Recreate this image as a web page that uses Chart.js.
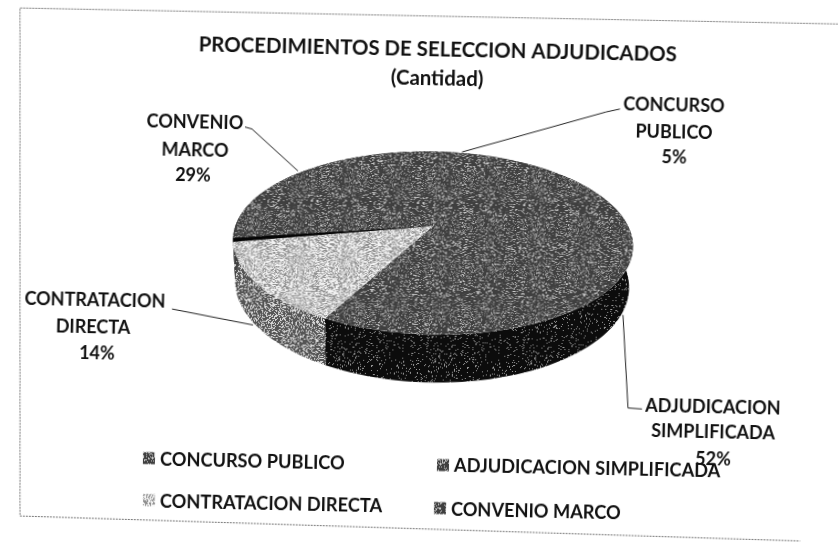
<!DOCTYPE html>
<html>
<head>
<meta charset="utf-8">
<script src="https://cdn.jsdelivr.net/npm/chart.js@4"></script>
<style>
  html, body { margin: 0; background: #fff; overflow: hidden; }
  #wrap { width: 838px; height: 546px; transform: rotate(1.2deg); transform-origin: 419px 273px; }
</style>
</head>
<body>
<div id="wrap"><canvas id="myChart" width="838" height="546"></canvas></div>
<script>
var categories = ['CONCURSO PUBLICO', 'ADJUDICACION SIMPLIFICADA', 'CONTRATACION DIRECTA', 'CONVENIO MARCO'];
var percents = [5, 52, 14, 29];
var titleLines = ['PROCEDIMIENTOS DE SELECCION ADJUDICADOS', '(Cantidad)'];
var labelLines = [['CONCURSO', 'PUBLICO'], ['ADJUDICACION', 'SIMPLIFICADA'], ['CONTRATACION', 'DIRECTA'], ['CONVENIO', 'MARCO']];

var FONT = 'Lato, "Open Sans", sans-serif';
var TILT = 1.2 * Math.PI / 180;

// in reference pixels; un-tilt because the whole canvas is rotated by css
function ref(x, y) {
  var dx = x - 419, dy = y - 273;
  return [419 + dx * Math.cos(TILT) + dy * Math.sin(TILT), 273 - dx * Math.sin(TILT) + dy * Math.cos(TILT)];
}

// fixed grainy fill to look like the photocopy
function speckle(dark, light, amount) {
  var c = document.createElement('canvas');
  c.width = c.height = 96;
  var g = c.getContext('2d');
  g.fillStyle = dark;
  g.fillRect(0, 0, 96, 96);
  g.fillStyle = light;
  for (var y = 0; y < 96; y++) {
    for (var x = 0; x < 96; x++) {
      var h = Math.sin(x * 12.9898 + y * 78.233) * 43758.5453;
      if (h - Math.floor(h) < amount) g.fillRect(x, y, 1, 1);
    }
  }
  return g.createPattern(c, 'repeat');
}

var ctxMain = document.getElementById('myChart').getContext('2d');
var faceDark = speckle('#3f3f3f', '#c8c8c8', 0.22);
var faceLight = speckle('#8f8f8f', '#f4f4f4', 0.55);
var faceFills = [faceDark, faceDark, faceLight, faceDark];
var sideFills = [faceDark, speckle('#0c0c0c', '#9a9a9a', 0.08), speckle('#555555', '#d8d8d8', 0.35), faceDark];

var cen = ref(433, 243);
var apex = ref(433, 226);
var RX = 200, RY = 91.5, DEPTH = 48;
var SY = RY / RX;

// where a slice edge leaves the apex and meets the top rim
function rimPoint(a) {
  var ux = Math.cos(a), uy = SY * Math.sin(a);
  var ox = apex[0] - cen[0], oy = apex[1] - cen[1];
  var A = ux * ux / (RX * RX) + uy * uy / (RY * RY);
  var B = 2 * (ox * ux / (RX * RX) + oy * uy / (RY * RY));
  var C = ox * ox / (RX * RX) + oy * oy / (RY * RY) - 1;
  var t = (-B + Math.sqrt(B * B - 4 * A * C)) / (2 * A);
  return [apex[0] + t * ux, apex[1] + t * uy];
}

var pie3d = {
  id: 'pie3d',
  beforeDatasetsDraw: function(chart) {
    var ctx = chart.ctx;
    var arcs = chart.getDatasetMeta(0).data;
    // sides first, the top face covers whatever is behind it
    arcs.forEach(function(arc, i) {
      var a0 = arc.startAngle, a1 = arc.endAngle, n = 80, top = [];
      for (var k = 0; k <= n; k++) top.push(rimPoint(a0 + (a1 - a0) * k / n));
      ctx.save();
      ctx.beginPath();
      top.forEach(function(p, k) { k ? ctx.lineTo(p[0], p[1]) : ctx.moveTo(p[0], p[1]); });
      for (k = n; k >= 0; k--) {
        var p = top[k];
        ctx.lineTo(cen[0] + (p[0] - cen[0]) * 0.985, p[1] + DEPTH * (0.72 + 0.28 * (p[1] - cen[1] + RY) / (2 * RY)));
      }
      ctx.closePath();
      ctx.fillStyle = sideFills[i];
      ctx.fill();
      ctx.restore();
    });
    // top face: big wedges around the apex, cut by the rim ellipse
    var r = arcs[0].outerRadius, s = 245 / r;
    ctx.save();
    ctx.beginPath();
    ctx.ellipse(cen[0], cen[1], RX, RY, 0, 0, Math.PI * 2);
    ctx.clip();
    ctx.translate(apex[0], apex[1]);
    ctx.scale(s, s * SY);
    ctx.translate(-arcs[0].x, -arcs[0].y);
  },
  afterDatasetsDraw: function(chart) {
    var ctx = chart.ctx;
    var arcs = chart.getDatasetMeta(0).data;
    ctx.restore();
    // dark seam between contratacion and convenio
    var e = rimPoint(arcs[3].startAngle);
    ctx.save();
    ctx.fillStyle = '#050505';
    ctx.beginPath();
    ctx.moveTo(apex[0], apex[1]);
    ctx.lineTo(e[0], e[1] - 4);
    ctx.lineTo(e[0], e[1]);
    ctx.closePath();
    ctx.fill();
    ctx.restore();
  },
  afterDraw: function(chart) {
    var ctx = chart.ctx;
    ctx.save();
    ctx.strokeStyle = '#222';
    ctx.lineWidth = 1;
    // leader lines
    [[[462, 152], [606, 112], [620, 109]],
     [[623, 315], [628, 408], [642, 409]],
     [[253, 325], [172, 309]],
     [[298, 171], [252, 129], [245, 127]]].forEach(function(pts) {
      ctx.beginPath();
      pts.forEach(function(p, k) {
        var q = ref(p[0], p[1]);
        k ? ctx.lineTo(q[0], q[1]) : ctx.moveTo(q[0], q[1]);
      });
      ctx.stroke();
    });
    // data labels
    ctx.fillStyle = '#111';
    ctx.font = 'bold 18px ' + FONT;
    ctx.textAlign = 'center';
    ctx.textBaseline = 'middle';
    [[[674, 105], [674, 132], [674, 158]],
     [[713, 407], [713, 432], [713, 459]],
     [[95, 300], [93, 327], [97, 353]],
     [[195, 122], [195, 150], [193, 175]]].forEach(function(pos, i) {
      labelLines[i].concat(percents[i] + '%').forEach(function(txt, k) {
        var q = ref(pos[k][0], pos[k][1]);
        ctx.fillText(txt, q[0], q[1]);
      });
    });
    // legend, two by two
    ctx.font = 'bold 18.2px ' + FONT;
    ctx.textAlign = 'left';
    [[143, 458], [437, 465], [143, 500], [434, 508]].forEach(function(pos, i) {
      var q = ref(pos[0], pos[1]);
      ctx.fillStyle = faceFills[i];
      ctx.fillRect(q[0], q[1] - 6, 12, 12);
      ctx.fillStyle = '#111';
      ctx.fillText(categories[i], q[0] + 17, q[1] + 1);
    });
    // scan frame
    ctx.strokeStyle = '#777';
    ctx.setLineDash([2, 1]);
    var corners = [[838, 24], [20, 8], [20, 516], [800, 541]];
    ctx.beginPath();
    corners.forEach(function(p, k) {
      var q = ref(p[0], p[1]);
      k ? ctx.lineTo(q[0], q[1]) : ctx.moveTo(q[0], q[1]);
    });
    ctx.stroke();
    ctx.restore();
  }
};

new Chart(ctxMain, {
  type: 'pie',
  data: {
    labels: categories,
    datasets: [{
      data: percents,
      backgroundColor: faceFills,
      borderWidth: 0
    }]
  },
  options: {
    responsive: false,
    animation: false,
    rotation: 2,
    layout: { padding: { left: 28, top: 25 } },
    plugins: {
      legend: { display: false },
      tooltip: { enabled: false },
      title: {
        display: true,
        fullSize: false,
        text: titleLines,
        color: '#111',
        font: { family: FONT, size: 20.4, weight: 'bold', lineHeight: 1.42 }
      }
    }
  },
  plugins: [pie3d]
});
</script>
</body>
</html>
